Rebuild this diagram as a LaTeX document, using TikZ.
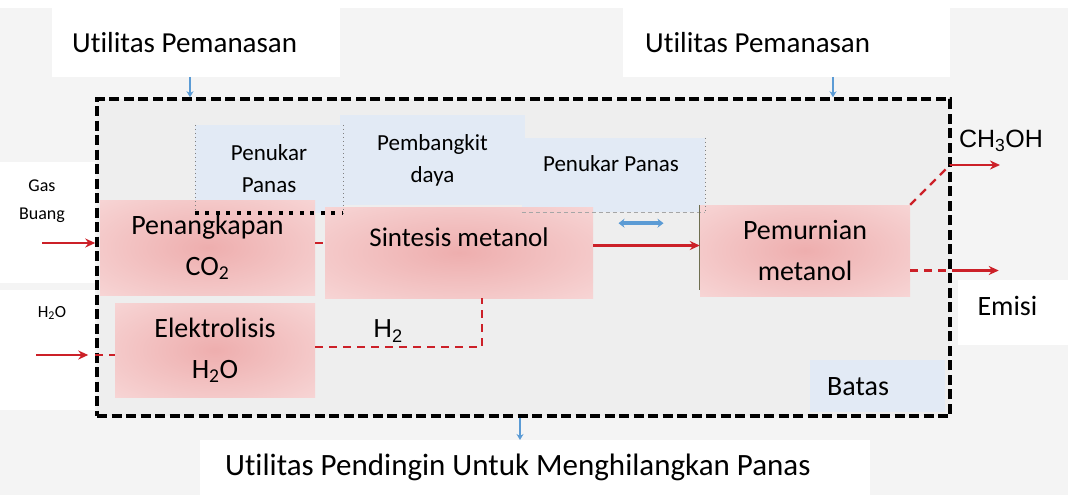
\documentclass[tikz,border=0pt]{standalone}
\usepackage{fontspec}
\setmainfont{Carlito}[Ligatures=CommonOff]
\newfontfamily\arialfont{Liberation Sans}
\usetikzlibrary{arrows.meta}

\definecolor{pagegray}{RGB}{244,244,244}
\definecolor{boundgray}{RGB}{238,238,238}
\definecolor{hxblue}{RGB}{226,234,245}
\definecolor{pinkmid}{RGB}{238,174,174}
\definecolor{pinkrim}{RGB}{249,222,222}
\definecolor{flowred}{RGB}{204,32,40}
\definecolor{heatblue}{RGB}{91,155,213}
\definecolor{rimolive}{RGB}{110,110,80}

% soft glow for the process units
\pgfdeclareradialshading{unitglow}{\pgfpoint{0bp}{0bp}}{%
  color(0bp)=(pinkmid); color(20bp)=(pinkmid!55!pinkrim);
  color(44bp)=(pinkrim); color(100bp)=(pinkrim)}

\tikzset{
  procbox/.style={shade, shading=unitglow, inner sep=0pt, align=center,
    font=\fontsize{28}{41}\selectfont},
  hxbox/.style={fill=hxblue, inner sep=0pt, align=center, font=\fontsize{23}{32}\selectfont},
  utilbox/.style={fill=white, anchor=north west, inner ysep=0pt, align=flush left,
    font=\fontsize{29}{34}\selectfont},
  flow/.style={flowred, line width=2.2pt, -{Stealth[length=10pt,width=9pt]}},
  flowdash/.style={flowred, line width=2.2pt, dash pattern=on 8pt off 6pt},
  heat/.style={heatblue, line width=1.6pt, -{Stealth[length=6pt,width=7pt]}},
  fineborder/.style={gray, line width=0.6pt, dash pattern=on 1pt off 3pt},
}

\begin{document}
\begin{tikzpicture}[x=1pt,y=-1pt]
  \useasboundingbox (0,0) rectangle (1068,495);
  \fill[pagegray] (0,0) rectangle (1068,495);
  \fill[white] (0,0) rectangle (1068,8);
  % white patches behind the feed and product labels
  \fill[white] (0,162) rectangle (95,283);
  \fill[white] (0,290) rectangle (95,410);
  \fill[white] (958,280) rectangle (1068,345);

  % utilities
  \node[utilbox, inner xsep=20pt, text width=248pt, minimum height=69pt] (heat1) at (52,8) {Utilitas Pemanasan};
  \node[utilbox, inner xsep=22pt, text width=283pt, minimum height=69pt] (heat2) at (623,8) {Utilitas Pemanasan};
  \node[utilbox, inner xsep=25pt, text width=620pt, minimum height=55pt,
    font=\fontsize{31}{34}\selectfont] (cool) at (200,440) {Utilitas Pendingin Untuk Menghilangkan Panas};

  % system boundary
  \node[draw, line width=3.5pt, dash pattern=on 10pt off 4.5pt, fill=boundgray,
    minimum width=853pt, minimum height=317pt, inner sep=0pt] (bound) at (523.5,257.5) {};

  % heat exchangers and power unit
  \node[hxbox, minimum width=185pt, minimum height=90pt] (power) at (432.5,160) {Pembangkit\\daya};
  \node[hxbox, minimum width=148pt, minimum height=88pt] (hxa) at (269,169) {Penukar\\Panas};
  \node[hxbox, minimum width=183pt, minimum height=74pt] (hxb) at (613.5,175) {};
  \node[font=\fontsize{23}{26}\selectfont] (hxbtext) at (611,164) {Penukar Panas};
  \node[hxbox, anchor=north west, minimum height=52pt, text width=101pt, inner xsep=17pt,
    align=flush left, font=\fontsize{28}{32}\selectfont] (boundtag) at (810,360) {Batas};

  % process units
  \node[procbox, minimum width=215pt, minimum height=95pt] (capture) at (207.5,247.5) {Penangkapan\\CO\textsubscript{2}};
  \node[procbox, minimum width=200pt, minimum height=94pt] (electro) at (215,350) {Elektrolisis\\H\textsubscript{2}O};
  \node[procbox, minimum width=268pt, minimum height=91pt] (synth) at (459,252.5) {};
  \node[font=\fontsize{27}{32}\selectfont] (synthtext) at (459,237) {Sintesis metanol};
  \node[procbox, minimum width=210pt, minimum height=91pt] (purify) at (805,250.5) {Pemurnian\\metanol};

  \draw[fineborder] (hxa.north west) -- (hxa.south west) (hxa.north east) -- (hxa.south east);
  \draw[line width=3.5pt, dash pattern=on 4pt off 6.5pt] (hxa.south west) -- (hxa.south east);
  \draw[fineborder] (hxb.north east) -- (hxb.south east);
  \draw[gray!70, line width=1pt, dash pattern=on 4pt off 3pt] (hxb.south west) -- (hxb.south east);
  \draw[rimolive, line width=1.2pt] (purify.north west) -- ([yshift=6pt]purify.south west);
  \draw[heatblue, line width=4pt, {Stealth[length=6pt,width=9pt]}-{Stealth[length=6pt,width=9pt]}]
    ([xshift=5pt,yshift=-11pt]hxb.south) -- ([xshift=50pt,yshift=-11pt]hxb.south);

  % feeds
  \node[font=\fontsize{18}{28}\selectfont, align=center] (gas) at (42,201) {Gas\\Buang};
  \node[font=\fontsize{17}{20}\selectfont] (water) at (52,313) {H\textsubscript{2}O};
  \coordinate (gasin) at (42,243);
  \coordinate (waterin) at (36,355);
  \draw[flow] (gasin) -- (gasin -| bound.west);
  \draw[flow, shorten >=7pt] (waterin) -- (waterin -| bound.west);
  \draw[flowdash] (waterin -| bound.west) -- (waterin -| electro.west);

  % streams between units
  \draw[flowdash] (capture.east |- gasin) -- (synth.west |- gasin);
  \coordinate (synthout) at ([yshift=7pt]synth.east);
  \draw[flow] (synthout) -- (synthout -| purify.west);
  \draw[flowdash] ([yshift=3pt]electro.east) -| ([xshift=23pt]synth.south);
  \node[font=\arialfont\fontsize{26}{30}\selectfont] (h2) at (388,331) {H\textsubscript{2}};

  % products
  \node[font=\arialfont\fontsize{25}{30}\selectfont] (meth) at (1001,141) {CH\textsubscript{3}OH};
  \coordinate (methgate) at (950,165);
  \coordinate (methend) at (1000,165);
  \draw[flowdash] (purify.north east) -- (methgate);
  \draw[flow] (methgate) -- (methend);
  \coordinate (emisgate) at ([yshift=-20pt]purify.east -| bound.east);
  \draw[flowdash] ([yshift=-20pt]purify.east) -- (emisgate);
  \draw[flow] (emisgate) -- ++(47,0);
  \node[font=\fontsize{28}{32}\selectfont, anchor=west] (emis) at (974,306) {Emisi};

  % utility heat flows
  \coordinate (h1) at (190,77);
  \coordinate (h2drop) at (833,77);
  \coordinate (c1) at (520,440);
  \draw[heat] (h1) -- (h1 |- bound.north);
  \draw[heat] (h2drop) -- (h2drop |- bound.north);
  \draw[heat] (c1 |- bound.south) -- (c1 |- cool.north);
\end{tikzpicture}
\end{document}
